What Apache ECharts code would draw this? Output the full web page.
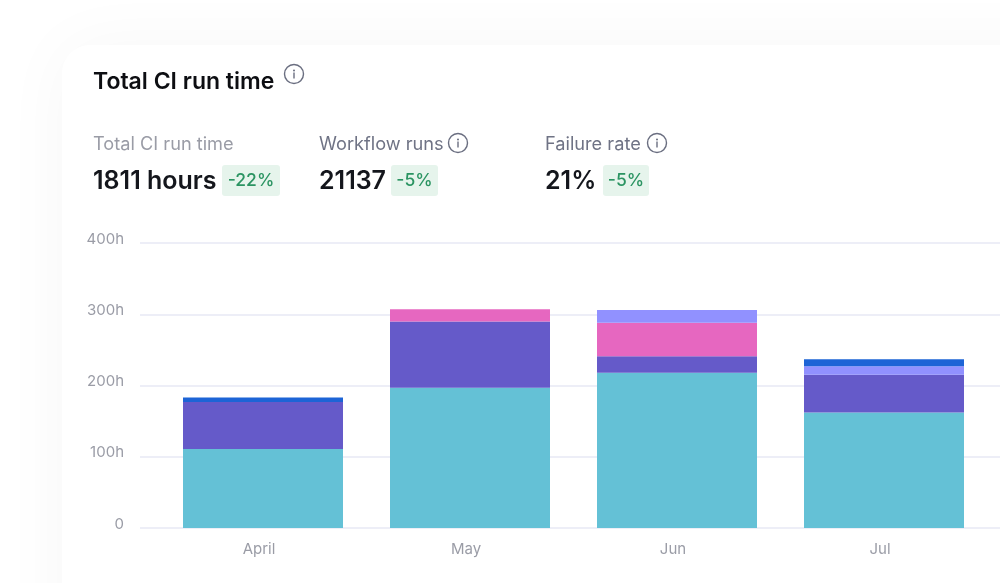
<!DOCTYPE html>
<html>
<head>
<meta charset="utf-8">
<style>html,body{margin:0;padding:0;background:#fff}#c{width:1000px;height:583px}</style>
<script src="https://cdn.jsdelivr.net/npm/echarts@6/dist/echarts.min.js"></script>
</head>
<body>
<div id="c"></div>
<script>
const categories = ['April', 'May', 'Jun', 'Jul'];
const tealValues = [111, 197, 218, 162];
const purpleValues = [66, 93, 23, 53];
const pinkValues = [0, 17, 47, 0];
const lavenderValues = [0, 0, 18, 12];
const blueValues = [6, 0, 0, 10];
const yTicks = [0, 100, 200, 300, 400];

const chart = echarts.init(document.getElementById('c'), null, {renderer: 'canvas'});
const INK = '#14161c', MUTED = '#9a9ca6', SLATE = '#6f7385', GREEN = '#2b9462';
const SANS = 'Inter, "Noto Sans", sans-serif';

function txt(x, y, text, size, weight, fill, family) {
  return {type: 'text', z: 10, x, y, style: {text, fontSize: size, fontWeight: weight, fill,
    fontFamily: family || SANS, textVerticalAlign: 'middle', verticalAlign: 'middle'}};
}
function info(cx, cy, r) {
  return [
    {type: 'circle', z: 10, shape: {cx, cy, r}, style: {fill: 'none', stroke: '#6a6e80', lineWidth: 1.4}},
    {type: 'circle', z: 10, shape: {cx, cy: cy - 3.6, r: 1}, style: {fill: '#6a6e80'}},
    {type: 'rect', z: 10, shape: {x: cx - 0.7, y: cy - 1.6, width: 1.4, height: 6}, style: {fill: '#6a6e80'}}
  ];
}
function badge(x, y, w, h, text) {
  return [
    {type: 'rect', z: 9, shape: {x, y, width: w, height: h, r: 3}, style: {fill: '#e6f4ec'}},
    {type: 'text', z: 10, x: x + w / 2, y: y + h / 2, style: {text, fontSize: 17.5, fontWeight: 500, fill: GREEN,
      fontFamily: SANS, align: 'center', verticalAlign: 'middle', textAlign: 'center', textVerticalAlign: 'middle'}}
  ];
}

const graphic = [
  {type: 'rect', z: 0, shape: {x: 62, y: 45, width: 1100, height: 700, r: 28},
   style: {fill: '#fff', shadowBlur: 70, shadowColor: 'rgba(20,20,40,0.035)'}},
  txt(93, 82, 'Total CI run time', 23, 600, '#0d0e12'),
  ...info(294, 74, 9.5),
  txt(93, 145, 'Total CI run time', 18.2, 400, MUTED),
  txt(93, 181, '1811 hours', 25, 600, INK),
  ...badge(222, 165, 58, 31, '-22%'),
  txt(319, 145, 'Workflow runs', 18.2, 400, SLATE),
  ...info(458, 143, 9.5),
  txt(319, 181, '21137', 25, 600, INK),
  ...badge(391, 165, 47, 31, '-5%'),
  txt(545, 145, 'Failure rate', 18.2, 400, SLATE),
  ...info(657, 143, 9.5),
  txt(545, 181, '21%', 25, 600, INK),
  ...badge(603, 165, 46, 31, '-5%')
];

const bar = (name, data, color) => ({
  name, type: 'bar', stack: 'total', xAxisIndex: 1, yAxisIndex: 1, data, barWidth: 160,
  itemStyle: {color}, silent: true, z: 3
});

chart.setOption({
  animation: false,
  backgroundColor: '#fff',
  graphic,
  grid: [
    {left: 140, top: 243, width: 860, height: 285},
    {left: 159.5, top: 243, width: 828, height: 285}
  ],
  xAxis: [
    {gridIndex: 0, type: 'value', min: 0, max: 1, show: false},
    {gridIndex: 1, type: 'category', data: categories,
     axisLine: {show: false}, axisTick: {show: false},
     axisLabel: {color: MUTED, fontSize: 15, fontFamily: SANS, margin: 14, padding: [0, 8, 0, 0]}}
  ],
  yAxis: [
    {gridIndex: 0, type: 'value', min: yTicks[0], max: yTicks[yTicks.length - 1], interval: 100,
     axisLine: {show: false}, axisTick: {show: false},
     splitLine: {lineStyle: {color: '#e7e9f5', width: 1.5}},
     axisLabel: {color: MUTED, fontSize: 15, fontFamily: SANS, margin: 16,
       verticalAlign: 'bottom', lineHeight: 8,
       formatter: v => v === 0 ? '0' : v + 'h'}},
    {gridIndex: 1, type: 'value', min: yTicks[0], max: yTicks[yTicks.length - 1], interval: 100, show: false}
  ],
  series: [
    bar('Teal', tealValues, '#64c1d6'),
    bar('Purple', purpleValues, '#655ac9'),
    bar('Pink', pinkValues, '#e667c0'),
    bar('Lavender', lavenderValues, '#9191ff'),
    bar('Blue', blueValues, '#1d64d6')
  ]
});
</script>
</body>
</html>
